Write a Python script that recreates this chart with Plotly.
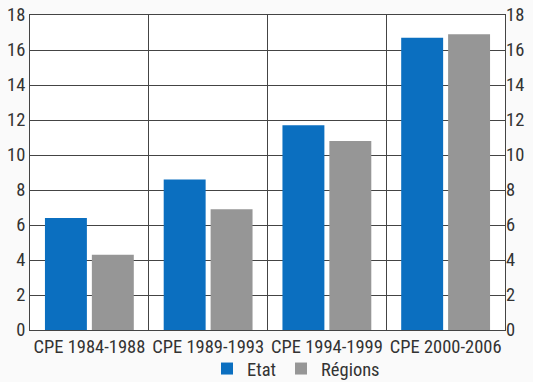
import plotly.graph_objects as go

categories = ["CPE 1984-1988", "CPE 1989-1993", "CPE 1994-1999", "CPE 2000-2006"]
etat = [6.4, 8.6, 11.7, 16.7]
regions = [4.3, 6.9, 10.8, 16.9]
ytick_vals = [0, 2, 4, 6, 8, 10, 12, 14, 16, 18]

FONT = "Roboto Condensed, Liberation Sans Narrow, Arial Narrow, sans-serif"
FS = 18.5

fig = go.Figure()
fig.add_trace(go.Bar(name="Etat", x=categories, y=etat, marker=dict(color="#0b6fc0", line=dict(width=0))))
fig.add_trace(go.Bar(name="Régions", x=categories, y=regions, marker=dict(color="#969696", line=dict(width=0))))
# invisible helper so the right-hand axis is drawn
fig.add_trace(go.Scatter(x=categories, y=regions, yaxis="y2", mode="markers",
                         marker=dict(opacity=0), showlegend=False, hoverinfo="skip"))

fig.update_layout(
    width=533, height=382,
    margin=dict(l=30, r=28, t=15, b=52, autoexpand=False),
    paper_bgcolor="#fafafa", plot_bgcolor="#ffffff",
    barmode="group", bargap=0.21, bargroupgap=0.106,
    font=dict(family=FONT, size=FS, color="#333333"),
    showlegend=True,
    legend=dict(orientation="h", x=0.56, xanchor="center", yref="container", y=0.034, yanchor="middle",
                font=dict(size=FS), itemwidth=30, tracegroupgap=0, bgcolor="rgba(0,0,0,0)"),
    xaxis=dict(type="category", tickson="boundaries", showgrid=True, gridcolor="#444444", gridwidth=1,
               showline=True, linecolor="#444444", mirror=True, ticks="", tickangle=0,
               tickfont=dict(size=FS)),
    yaxis=dict(range=[0, 18], tickvals=ytick_vals, showgrid=True, gridcolor="#444444", gridwidth=1,
               showline=True, linecolor="#444444", mirror=True, zeroline=False, ticks="",
               tickfont=dict(size=FS)),
    yaxis2=dict(range=[0, 18], tickvals=ytick_vals, overlaying="y", side="right",
                showgrid=False, showline=False, zeroline=False, ticks="", tickfont=dict(size=FS)),
)

fig.write_html("out.html")
